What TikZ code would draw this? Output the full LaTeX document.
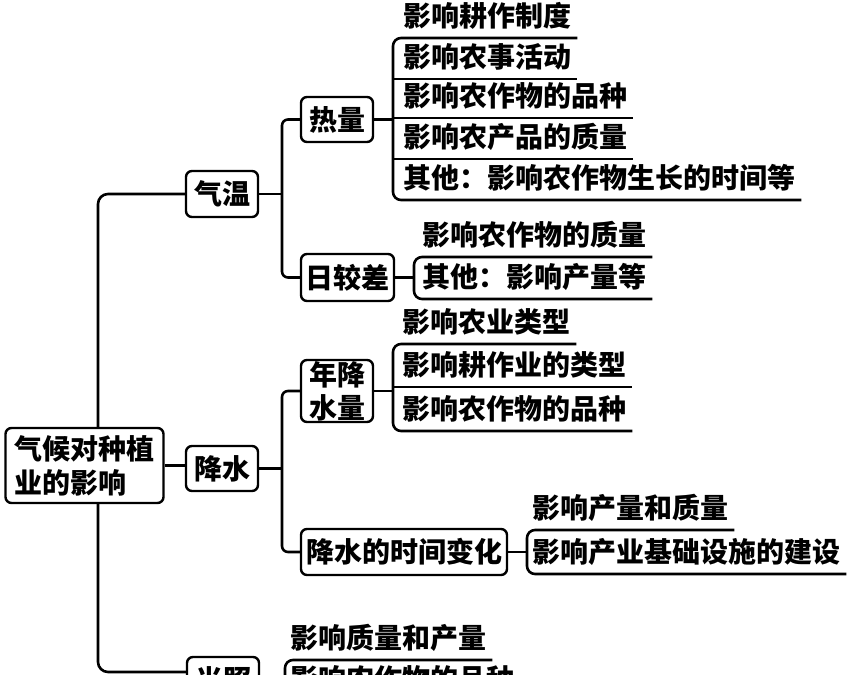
\documentclass[tikz,border=0pt]{standalone}
\usepackage{fontspec}
\setmainfont{Noto Sans CJK SC}
\usetikzlibrary{calc}
\begin{document}
\begin{tikzpicture}[x=1pt,y=-1pt,
  every node/.style={font=\fontsize{28pt}{34pt}\selectfont\bfseries},
  box/.style={draw,line width=2.4pt,rounded corners=6pt,inner sep=0pt,align=center},
  itm/.style={inner xsep=0pt,inner ysep=0pt,anchor=south west,text height=24pt,text depth=11pt},
  ln/.style={line width=2.6pt},
  line join=round]
\useasboundingbox (0,0) rectangle (858,674);
\clip (0,0) rectangle (858,674);

% boxes
\node[box,minimum width=157pt,minimum height=75pt,align=left,inner xsep=9pt] (root) at (84.5,465.5) {气候对种植\\业的影响};
\node[box,minimum width=72pt,minimum height=46pt] (qw) at (222,194) {气温};
\node[box,minimum width=72pt,minimum height=45pt] (rl) at (337,119.5) {热量};
\node[box,minimum width=93pt,minimum height=47pt] (rj) at (347.5,277.5) {日较差};
\node[box,minimum width=72pt,minimum height=45pt] (js) at (222,468.5) {降水};
\node[box,minimum width=72pt,minimum height=62pt,font=\fontsize{28pt}{33pt}\selectfont\bfseries] (nj) at (337,391) {年降\\水量};
\node[box,minimum width=206pt,minimum height=46pt] (sj) at (404,552) {降水的时间变化};
\node[box,minimum width=72pt,minimum height=46pt] (gz) at (223,680) {光照};

% items
\node[itm] (a1) at (403,38) {影响耕作制度};
\node[itm] (a2) at (403,79) {影响农事活动};
\node[itm] (a3) at (403,118) {影响农作物的品种};
\node[itm] (a4) at (403,159) {影响农产品的质量};
\node[itm] (a5) at (403,200) {其他：影响农作物生长的时间等};

\node[itm] (b1) at (422,257) {影响农作物的质量};
\node[itm] (b2) at (422,299) {其他：影响产量等};

\node[itm] (c1) at (402,344) {影响农业类型};
\node[itm] (c2) at (402,387) {影响耕作业的类型};
\node[itm] (c3) at (402,431) {影响农作物的品种};

\node[itm] (d1) at (532,530) {影响产量和质量};
\node[itm] (d2) at (532,574) {影响产业基础设施的建设};

\node[itm] (e1) at (290,660) {影响质量和产量};
\node[itm] (e2) at (290,701) {影响农作物的品种};

% bracket x positions
\coordinate (bA) at (393,0);
\coordinate (bB) at (414,0);
\coordinate (bC) at (393,0);
\coordinate (bD) at (527,0);
\coordinate (bE) at (285,0);
\coordinate (tx) at (98,0);
\coordinate (f1) at (282,194);
\coordinate (f2) at (282,468.5);

% trunk
\draw[ln,rounded corners=10pt] (qw.west) -| (root.north -| tx);
\draw[ln,rounded corners=10pt] (root.south -| tx) |- ([yshift=8pt]gz.west);
\draw[ln] (root.east) -- (root.east -| js.west);

% forks
\draw[ln,rounded corners=6pt] (rl.west) -| (f1) |- (rj.west);
\draw[ln] (qw.east) -- (f1);
\draw[ln,rounded corners=6pt] (nj.west) -| (f2) |- (sj.west);
\draw[ln] (js.east) -- (f2);

% bracket A
\draw[ln,rounded corners=8pt] ([xshift=6pt]a1.south east) -- (a1.south west -| bA) -- (a5.south west -| bA) -- ([xshift=6pt]a5.south east);
\foreach \n in {a2,a3,a4} \draw[ln] (\n.south west -| bA) -- ([xshift=6pt]\n.south east);
\draw[ln] (rl.east) -- (rl.east -| bA);

% bracket B
\draw[ln,rounded corners=8pt] ([xshift=6pt]b1.south east) -- (b1.south west -| bB) -- (b2.south west -| bB) -- ([xshift=6pt]b2.south east);
\draw[ln] (rj.east) -- (rj.east -| bB);

% bracket C
\draw[ln,rounded corners=8pt] ([xshift=6pt]c1.south east) -- (c1.south west -| bC) -- (c3.south west -| bC) -- ([xshift=6pt]c3.south east);
\draw[ln] (c2.south west -| bC) -- ([xshift=6pt]c2.south east);
\draw[ln] (nj.east) -- (nj.east -| bC);

% bracket D
\draw[ln,rounded corners=8pt] ([xshift=6pt]d1.south east) -- (d1.south west -| bD) -- (d2.south west -| bD) -- ([xshift=6pt]d2.south east);
\draw[ln] (sj.east) -- (sj.east -| bD);

% bracket E
\draw[ln,rounded corners=8pt] ([xshift=6pt]e1.south east) -- (e1.south west -| bE) -- (e2.south west -| bE) -- ([xshift=6pt]e2.south east);
\draw[ln] (gz.east) -- (gz.east -| bE);
\end{tikzpicture}
\end{document}
